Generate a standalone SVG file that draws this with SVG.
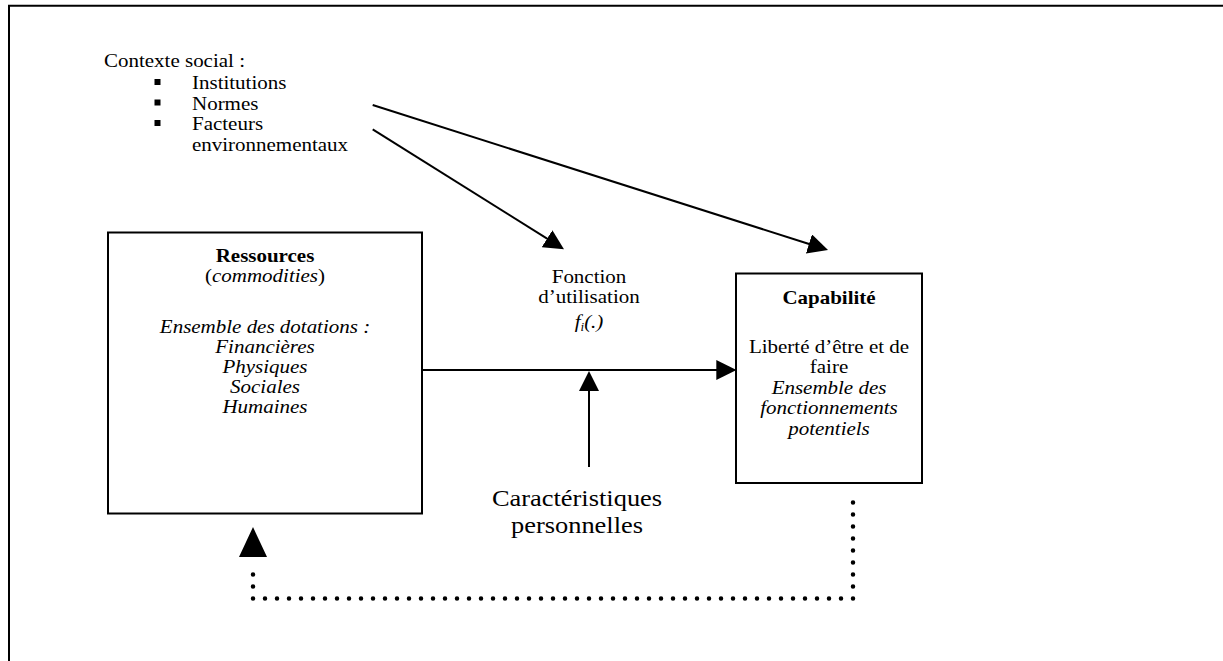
<svg xmlns="http://www.w3.org/2000/svg" width="1223" height="661" viewBox="0 0 1223 661">
  <style>
    text { font-family: "Liberation Serif", "Times New Roman", serif; font-size: 18.5px; fill: #000; }
    .c { text-anchor: middle; }
    .b { font-weight: bold; }
    .i { font-style: italic; }
    .big { font-size: 23.5px; }
    .box { fill: #fff; stroke: #000; stroke-width: 2; }
    .ln { stroke: #000; stroke-width: 2; fill: none; }
    .dot { stroke: #000; stroke-width: 4.5; fill: none; stroke-linecap: round; stroke-dasharray: 0 12; }
  </style>
  <defs>
    <marker id="ah" viewBox="0 0 20 20" refX="1" refY="10" markerWidth="20" markerHeight="20" markerUnits="userSpaceOnUse" orient="auto">
      <path d="M0,0 L20,10 L0,20 z" fill="#000"/>
    </marker>
  </defs>
  <rect x="0" y="0" width="1223" height="661" fill="#fff"/>

  <g id="frame">
    <line class="ln" x1="8" y1="5.8" x2="1223" y2="5.8"/>
    <line class="ln" x1="9" y1="5" x2="9" y2="661"/>
  </g>

  <g id="contexte">
    <text transform="translate(104 67) scale(1.135 1)">Contexte social :</text>
    <rect x="154.5" y="79" width="6" height="6"/>
    <rect x="154.5" y="99.5" width="6" height="6"/>
    <rect x="154.5" y="120" width="6" height="6"/>
    <text transform="translate(192 89) scale(1.135 1)">Institutions</text>
    <text transform="translate(192 109.5) scale(1.135 1)">Normes</text>
    <text transform="translate(192 130) scale(1.135 1)">Facteurs</text>
    <text transform="translate(192 150.5) scale(1.135 1)">environnementaux</text>
  </g>

  <g id="ressources">
    <rect class="box" x="108" y="232.5" width="314" height="281"/>
    <text class="c b" transform="translate(265 262) scale(1.135 1)">Ressources</text>
    <text class="c" transform="translate(265 282) scale(1.135 1)">(<tspan class="i">commodities</tspan>)</text>
    <text class="c i" transform="translate(265 333) scale(1.135 1)">Ensemble des dotations :</text>
    <text class="c i" transform="translate(265 353) scale(1.135 1)">Financières</text>
    <text class="c i" transform="translate(265 373) scale(1.135 1)">Physiques</text>
    <text class="c i" transform="translate(265 393) scale(1.135 1)">Sociales</text>
    <text class="c i" transform="translate(265 413) scale(1.135 1)">Humaines</text>
  </g>

  <g id="fonction">
    <text class="c" transform="translate(589 283) scale(1.135 1)">Fonction</text>
    <text class="c" transform="translate(589 303) scale(1.135 1)">d’utilisation</text>
    <text class="c i" transform="translate(589 328) scale(1.135 1)" font-size="17.5">f<tspan font-size="11.5" dy="2.5">i</tspan><tspan dy="-2.5">(.)</tspan></text>
  </g>

  <g id="capabilite">
    <rect class="box" x="736" y="273.5" width="186" height="209.5"/>
    <text class="c b" transform="translate(829 304) scale(1.135 1)">Capabilité</text>
    <text class="c" transform="translate(829 352.5) scale(1.135 1)">Liberté d’être et de</text>
    <text class="c" transform="translate(829 373) scale(1.135 1)">faire</text>
    <text class="c i" transform="translate(829 393.5) scale(1.135 1)">Ensemble des</text>
    <text class="c i" transform="translate(829 414) scale(1.135 1)">fonctionnements</text>
    <text class="c i" transform="translate(829 434.5) scale(1.135 1)">potentiels</text>
  </g>

  <g id="caracteristiques">
    <text class="c big" transform="translate(577 506) scale(1.125 1)">Caractéristiques</text>
    <text class="c big" transform="translate(577 533) scale(1.125 1)">personnelles</text>
  </g>

  <g id="connectors">
    <line class="ln" x1="372.7" y1="105" x2="809.9" y2="244.2" marker-end="url(#ah)"/>
    <line class="ln" x1="372.7" y1="129.3" x2="547.9" y2="239.2" marker-end="url(#ah)"/>
    <line class="ln" x1="422" y1="370" x2="717.3" y2="370" marker-end="url(#ah)"/>
    <line class="ln" x1="589" y1="467" x2="589" y2="390" marker-end="url(#ah)"/>
    <path class="dot" d="M853 502.5 V598.5 H253 V562.5"/>
    <polygon points="253,527 239,557 267,557" fill="#000"/>
  </g>
</svg>
